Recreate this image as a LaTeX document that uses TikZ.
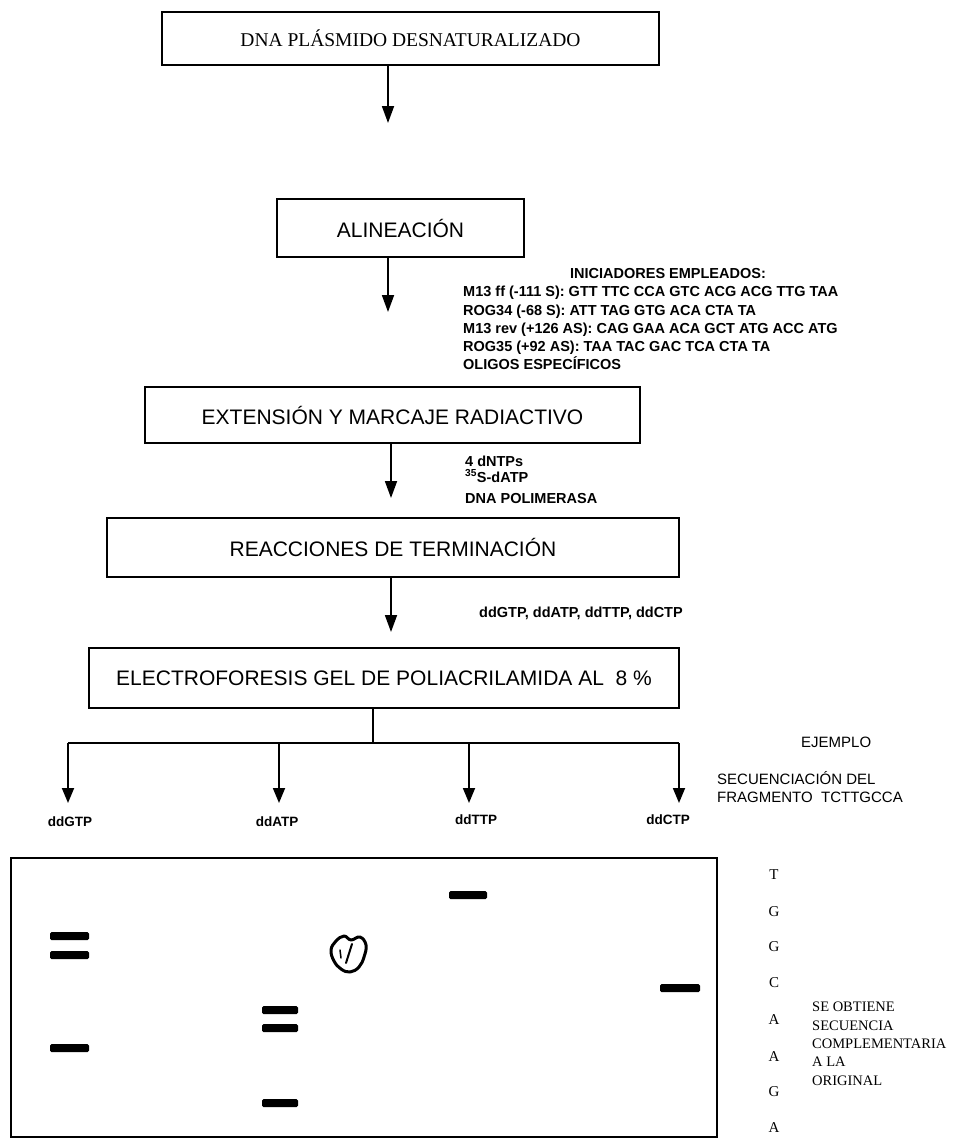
\documentclass[tikz,border=0pt]{standalone}
\usepackage{fontspec}
\setmainfont{Liberation Serif}
\setsansfont{Liberation Sans}
\usetikzlibrary{arrows.meta}

\begin{document}
\begin{tikzpicture}[x=1pt,y=-1pt,
  stagebox/.style={draw, line width=1.8pt, inner sep=0pt,
    font=\sffamily\fontsize{21}{25}\selectfont},
  flowarrow/.style={line width=1.8pt, -{Triangle[length=17pt,width=12pt]}},
  lanearrow/.style={line width=1.8pt, -{Triangle[length=15pt,width=12pt]}},
  wire/.style={line width=1.6pt},
  note/.style={font=\sffamily\bfseries\fontsize{14.5}{18.3}\selectfont,
    inner sep=0pt, align=left},
  plainnote/.style={font=\sffamily\fontsize{15}{18.5}\selectfont,
    inner sep=0pt, align=left},
  lanelabel/.style={font=\sffamily\bfseries\fontsize{13.5}{16}\selectfont, inner sep=0pt},
  baseletter/.style={font=\rmfamily\fontsize{15}{16}\selectfont, inner sep=0pt},
  band/.style={fill=black, rounded corners=1.5pt}]

\useasboundingbox (0,0) rectangle (957,1140);

% process stages
\node[stagebox, minimum width=497pt, minimum height=53pt,
  font=\rmfamily\fontsize{19.5}{23}\selectfont] (dna) at (410.5,38.5)
  {DNA PLÁSMIDO DESNATURALIZADO};
\node[stagebox, minimum width=247pt, minimum height=58pt] (alin) at (400.5,228)
  {ALINEACIÓN};
\node[stagebox, minimum width=495pt, minimum height=56pt] (ext) at (392.5,415)
  {EXTENSIÓN Y MARCAJE RADIACTIVO};
\node[stagebox, minimum width=572pt, minimum height=59pt] (term) at (393,547.5)
  {REACCIONES DE TERMINACIÓN};
\node[stagebox, minimum width=590pt, minimum height=60pt] (electro) at (384,678)
  {ELECTROFORESIS GEL DE POLIACRILAMIDA AL~~8~\%};

% arrows between stages
\coordinate (t1) at (388,123);
\coordinate (t2) at (388,312);
\coordinate (t3) at (391,498);
\coordinate (t4) at (391,632);
\draw[flowarrow] (dna.south -| t1) -- (t1);
\draw[flowarrow] (alin.south -| t2) -- (t2);
\draw[flowarrow] (ext.south -| t3) -- (t3);
\draw[flowarrow] (term.south -| t4) -- (t4);

% reagents
\node[note, anchor=center] (primtitle) at (668,274) {INICIADORES EMPLEADOS:};
\node[note, anchor=north west] (primers) at (463,286)
  {M13 ff (-111 S): GTT TTC CCA GTC ACG ACG TTG TAA\\
   ROG34 (-68 S): ATT TAG GTG ACA CTA TA\\
   M13 rev (+126 AS): CAG GAA ACA GCT ATG ACC ATG\\
   ROG35 (+92 AS): TAA TAC GAC TCA CTA TA\\
   OLIGOS ESPECÍFICOS};
\node[note, anchor=north west] (mix) at (465,456)
  {4 dNTPs\\[-3pt]
   \textsuperscript{35}S-dATP\\[3pt]
   DNA POLIMERASA};
\node[note, anchor=west] (ddnt) at (479,613) {ddGTP, ddATP, ddTTP, ddCTP};

% split into four lanes
\coordinate (split) at (373,743);
\coordinate (bG) at (68,743);
\coordinate (bA) at (279,743);
\coordinate (bT) at (469,743);
\coordinate (bC) at (679,743);
\coordinate (aG) at (68,803);
\coordinate (aA) at (279,803);
\coordinate (aT) at (469,803);
\coordinate (aC) at (679,803);
\draw[wire] (electro.south -| split) -- (split);
\draw[wire] (bG) -- (bC);
\draw[lanearrow] (bG) -- (aG);
\draw[lanearrow] (bA) -- (aA);
\draw[lanearrow] (bT) -- (aT);
\draw[lanearrow] (bC) -- (aC);

\node[lanelabel] (lG) at (70,822) {ddGTP};
\node[lanelabel] (lA) at (277,822) {ddATP};
\node[lanelabel] (lT) at (476,820) {ddTTP};
\node[lanelabel] (lC) at (668,820) {ddCTP};

\node[plainnote, anchor=west] (ejemplo) at (801,742) {EJEMPLO};
\node[plainnote, anchor=north west] (frag) at (717,771)
  {SECUENCIACIÓN DEL\\FRAGMENTO~~TCTTGCCA};

% gel
\draw[line width=1.8pt] (11,858) rectangle (717,1137);
\fill[band] (50,932) rectangle (89,940);
\fill[band] (50,951) rectangle (89,959);
\fill[band] (50,1044) rectangle (89,1052);
\fill[band] (262,1006) rectangle (298,1014);
\fill[band] (262,1024) rectangle (298,1032);
\fill[band] (262,1099) rectangle (298,1107);
\fill[band] (449,891) rectangle (487,899);
\fill[band] (660,984) rectangle (700,992);

% ink blot on the gel
\draw[line width=3pt, line join=round]
  plot[smooth cycle, tension=0.7] coordinates
  {(336,941) (344,936) (351,940) (360,937) (366,945) (364,957)
   (359,967) (350,972) (341,969) (334,961) (331,950)};
\draw[line width=2pt, line cap=round] (346,963) -- (352,944);
\draw[line width=1.5pt, line cap=round] (340,950) -- (341,958);

% read-out of the sequence
\node[baseletter] (r1) at (774,875) {T};
\node[baseletter] (r2) at (774,912) {G};
\node[baseletter] (r3) at (774,947) {G};
\node[baseletter] (r4) at (774,983) {C};
\node[baseletter] (r5) at (774,1020) {A};
\node[baseletter] (r6) at (774,1057) {A};
\node[baseletter] (r7) at (774,1092) {G};
\node[baseletter] (r8) at (774,1128) {A};
\node[font=\rmfamily\fontsize{14.5}{18.3}\selectfont, inner sep=0pt,
  align=left, anchor=north west] (result) at (812,1002)
  {SE OBTIENE\\SECUENCIA\\COMPLEMENTARIA\\A LA\\ORIGINAL};
\end{tikzpicture}
\end{document}
